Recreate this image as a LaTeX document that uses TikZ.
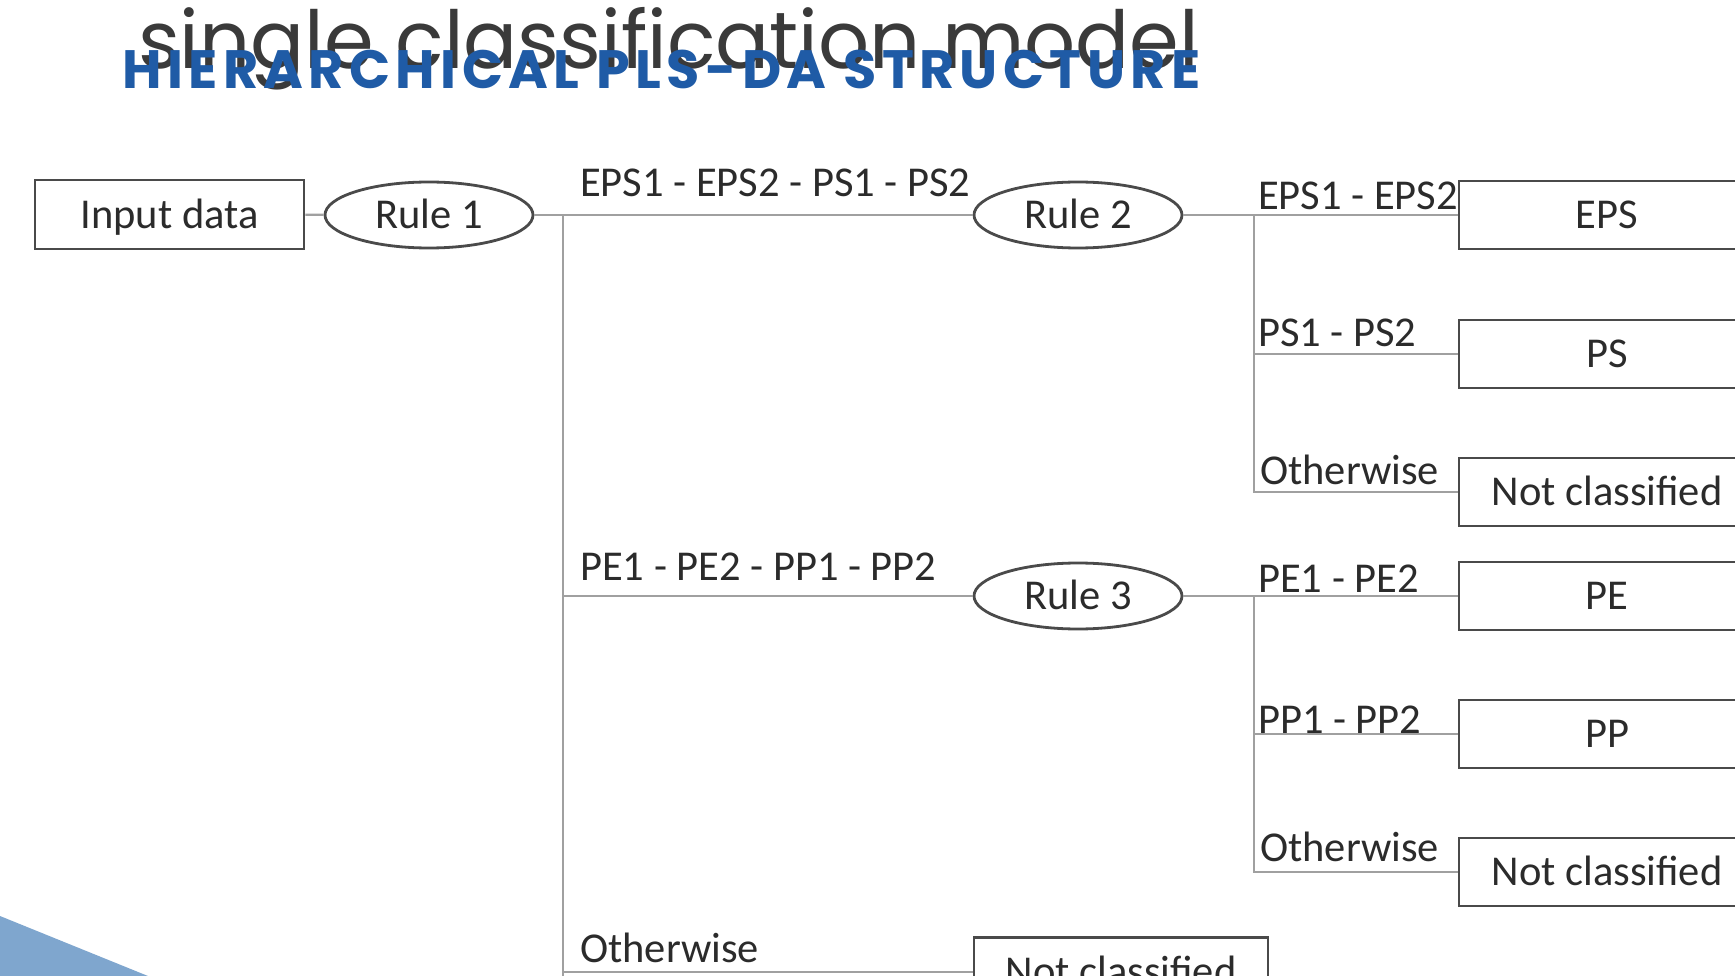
\documentclass[tikz,border=0pt]{standalone}
\usepackage{fontspec}
\setmainfont{Carlito}
\newfontfamily\headfont{Poppins}[LetterSpace=10]
\newfontfamily\subfont{Poppins}
\usetikzlibrary{shapes.geometric, positioning}
\definecolor{HeadBlue}{HTML}{1F5BA6}
\definecolor{SubGray}{HTML}{3A3A3A}
\definecolor{LineGray}{HTML}{A0A0A0}
\definecolor{EdgeDark}{HTML}{4A4A4A}
\definecolor{InkDark}{HTML}{2B2B2B}
\definecolor{WedgeBlue}{HTML}{7FA6CE}
\newcommand{\diagfont}{\fontsize{42.5}{50}\selectfont}

\begin{document}
\begin{tikzpicture}[x=1pt, y=-1pt,
        classbox/.style={rectangle, draw=EdgeDark, line width=2.8pt, fill=white, minimum width=296pt, minimum height=68pt, inner sep=0pt, text height=27.4pt, text depth=0pt, font=\diagfont, text=InkDark},
        decision/.style={ellipse, draw=EdgeDark, line width=2.8pt, fill=white, minimum width=208pt, minimum height=66pt, inner sep=0pt, text height=27.4pt, text depth=0pt, font=\diagfont, text=InkDark},
        branchlabel/.style={anchor=base west, inner sep=0pt, font=\diagfont, text=InkDark},
        link/.style={draw=LineGray, line width=2.2pt}]

        \useasboundingbox (0,0) rectangle (1735,976);
        \clip (0,0) rectangle (1735,976);

        % slide heading
        \node[anchor=base west, inner sep=0pt, font=\subfont\fontsize{80}{90}\selectfont, text=SubGray] (subtitle) at (138,69) {single classification model};
        \node[anchor=base west, inner sep=0pt, font=\headfont\bfseries\fontsize{54}{62}\selectfont, text=HeadBlue] (heading) at (122,89) {HIERARCHICAL PLS-DA STRUCTURE};

        % first level
        \node[classbox, minimum width=269pt, minimum height=69pt] (input) at (169.5,214.5) {Input data};
        \node[decision] (rule1) at (429,215) {Rule 1};
        \node[decision] (rule2) at (1078,215) {Rule 2};
        \node[decision] (rule3) at (1078,596) {Rule 3};
        \node[classbox, minimum width=294pt, minimum height=69pt] (nc3) at (1121,972) {Not classified};
        \coordinate (j1) at (563,215);

        % second level
        \node[classbox] (eps) at (1607,215) {EPS};
        \node[classbox] (ps) at (1607,354) {PS};
        \node[classbox] (nc1) at (1607,492) {Not classified};
        \node[classbox] (pe) at (1607,596) {PE};
        \node[classbox] (pp) at (1607,734) {PP};
        \node[classbox] (nc2) at (1607,872) {Not classified};
        \coordinate (j2) at (1254,215);
        \coordinate (j3) at (1254,596);

        \draw[link] (input) -- (rule1);
        \draw[link] (rule1) -- (rule2);
        \draw[link] (j1) |- (rule3.west);
        \draw[link] (j1) |- (nc3.west);
        \draw[link] (j1 |- nc3.west) -- (563,980);

        \draw[link] (rule2) -- (eps);
        \draw[link] (j2) |- (ps.west);
        \draw[link] (j2) |- (nc1.west);
        \draw[link] (rule3) -- (pe);
        \draw[link] (j3) |- (pp.west);
        \draw[link] (j3) |- (nc2.west);

        % branch labels
        \node[branchlabel] (l1) at (580,197) {EPS1 - EPS2 - PS1 - PS2};
        \node[branchlabel] (l2) at (580,580) {PE1 - PE2 - PP1 - PP2};
        \node[branchlabel] (l3) at (580,962) {Otherwise};
        \node[branchlabel] (l4) at (1258,210) {EPS1 - EPS2};
        \node[branchlabel] (l5) at (1258,346) {PS1 - PS2};
        \node[branchlabel] (l6) at (1260,484) {Otherwise};
        \node[branchlabel] (l7) at (1258,592) {PE1 - PE2};
        \node[branchlabel] (l8) at (1258,733) {PP1 - PP2};
        \node[branchlabel] (l9) at (1260,861) {Otherwise};

        \fill[WedgeBlue] (0,916) -- (148,976) -- (0,976) -- cycle;
\end{tikzpicture}
\end{document}
